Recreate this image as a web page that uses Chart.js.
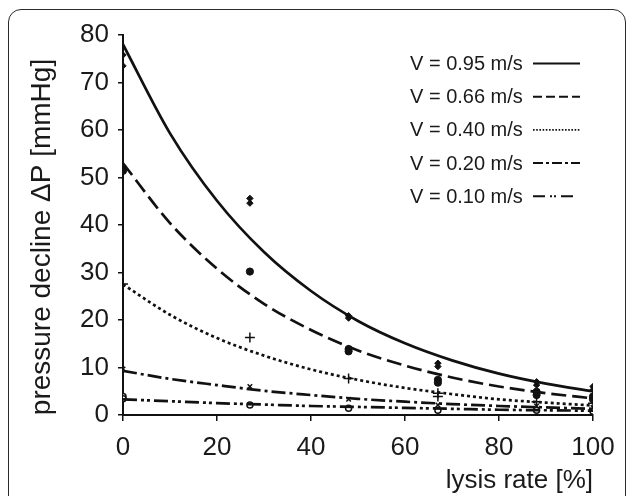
<!DOCTYPE html>
<html>
<head>
<meta charset="utf-8">
<script src="https://cdn.jsdelivr.net/npm/chart.js@4/dist/chart.umd.min.js"></script>
<style>
  html, body { margin: 0; padding: 0; background: #fff; overflow: hidden; }
  #wrap { position: relative; width: 627px; height: 496px; overflow: hidden; }
  #frame { position: absolute; left: 8px; top: 9px; width: 618px; height: 540px;
           border: 1.6px solid #2b2b2b; border-radius: 13px; box-sizing: border-box; }
  canvas { position: absolute; left: 0; top: 0; }
</style>
</head>
<body>
<div id="wrap">
  <div id="frame"></div>
  <canvas id="c" width="627" height="496"></canvas>
</div>
<script>
// ---- data ----
const seriesLabels = ['V = 0.95 m/s', 'V = 0.66 m/s', 'V = 0.40 m/s', 'V = 0.20 m/s', 'V = 0.10 m/s'];

// fitted curves (read at every 10 % of lysis rate)
const curveX    = [0, 10, 20, 30, 40, 50, 60, 70, 80, 90, 100];
const curve095  = [78.0, 59.3, 45.1, 34.3, 26.1, 19.8, 15.1, 11.5, 8.7, 6.6, 5.0];
const curve066  = [53.0, 40.4, 30.8, 23.4, 17.9, 13.6, 10.4, 7.9, 6.0, 4.6, 3.5];
const curve040  = [27.5, 21.1, 16.2, 12.5, 9.6, 7.4, 5.7, 4.4, 3.3, 2.6, 2.0];
const curve020  = [9.3, 7.6, 6.3, 5.1, 4.2, 3.4, 2.8, 2.3, 1.9, 1.6, 1.3];
const curve010  = [3.3, 2.9, 2.5, 2.2, 1.9, 1.7, 1.5, 1.3, 1.1, 1.0, 0.9];

// measured points
const ptsX095 = [0, 0, 27, 27, 48, 48, 67, 67, 88, 88, 100, 100];
const ptsY095 = [75.8, 73.5, 45.6, 44.6, 20.9, 20.4, 10.9, 10.2, 7.0, 6.3, 6.0, 5.3];
const ptsX066 = [0, 0, 27, 48, 48, 67, 67, 88, 88, 100, 100];
const ptsY066 = [52.0, 51.4, 30.2, 13.9, 13.4, 7.4, 6.8, 4.9, 4.2, 3.9, 3.3];
const ptsX040 = [0, 27, 48, 67, 67, 88, 100];
const ptsY040 = [27.6, 16.3, 7.7, 4.6, 3.9, 2.8, 2.5];
const ptsX020 = [0, 27, 48, 67, 88, 100];
const ptsY020 = [9.7, 6.0, 3.3, 2.1, 1.9, 1.6];
const ptsX010 = [0, 0, 27, 48, 67, 88, 100];
const ptsY010 = [3.9, 3.4, 2.1, 1.4, 1.0, 1.0, 0.8];

const xTickValues = [0, 20, 40, 60, 80, 100];
const yTickValues = [0, 10, 20, 30, 40, 50, 60, 70, 80];
const xTitle = 'lysis rate [%]';
const yTitle = 'pressure decline \u0394P [mmHg]';

// ---- styling ----
const FONT = '"Liberation Sans", Arial, sans-serif';
const dashes = [[], [15, 6], [3, 3], [14, 4, 3, 4], [14, 4, 3, 3, 3, 4]];
const legendDashes = [[], [9, 4], [1.6, 1.6], [10, 3, 3, 3], [12, 5, 2, 2, 2, 5]];
const curves = [curve095, curve066, curve040, curve020, curve010];

const toXY = (xs, ys) => xs.map((x, i) => ({x: x, y: ys[i]}));

const datasets = [];
curves.forEach((c, i) => {
  datasets.push({
    type: 'line',
    label: seriesLabels[i],
    data: toXY(curveX, c),
    borderColor: '#111',
    borderWidth: 2.7,
    borderDash: dashes[i],
    cubicInterpolationMode: 'monotone',
    pointRadius: 0,
    fill: false
  });
});
const pointSets = [
  {xs: ptsX095, ys: ptsY095, style: 'rectRot', r: 3.2, bg: '#111', bw: 1},
  {xs: ptsX066, ys: ptsY066, style: 'circle', r: 3.6, bg: '#111', bw: 1},
  {xs: ptsX040, ys: ptsY040, style: 'cross', r: 5, bg: '#111', bw: 1.5},
  {xs: ptsX020, ys: ptsY020, style: 'crossRot', r: 3.2, bg: '#111', bw: 1.5},
  {xs: ptsX010, ys: ptsY010, style: 'circle', r: 3, bg: '#fff', bw: 1.5}
];
pointSets.forEach((p, i) => {
  datasets.push({
    type: 'scatter',
    label: seriesLabels[i] + ' data',
    data: toXY(p.xs, p.ys),
    showLine: false,
    pointStyle: p.style,
    pointRadius: p.r,
    pointBackgroundColor: p.bg,
    pointBorderColor: '#111',
    pointBorderWidth: p.bw
  });
});

const legendPlugin = {
  id: 'customLegend',
  afterDraw(chart) {
    const ctx = chart.ctx;
    ctx.save();
    // legend
    ctx.font = '20px ' + FONT;
    ctx.fillStyle = '#1a1a1a';
    ctx.textBaseline = 'middle';
    ctx.textAlign = 'left';
    seriesLabels.forEach((lab, i) => {
      const y = 64.5 + i * 33.2;
      ctx.fillText(lab, 410, y);
      ctx.beginPath();
      ctx.setLineDash(legendDashes[i]);
      ctx.lineWidth = i === 2 ? 1.6 : 2;
      ctx.strokeStyle = '#111';
      ctx.moveTo(533, y - 1);
      ctx.lineTo(i === 4 ? 574 : 580, y - 1);
      ctx.stroke();
    });
    // y axis title
    ctx.setLineDash([]);
    ctx.font = '28px ' + FONT;
    ctx.textAlign = 'center';
    ctx.translate(42, 237);
    ctx.rotate(-Math.PI / 2);
    ctx.fillText(yTitle, 0, 0);
    ctx.restore();
  }
};

new Chart(document.getElementById('c'), {
  type: 'scatter',
  data: { datasets: datasets },
  options: {
    responsive: false,
    animation: false,
    events: [],
    layout: { padding: { left: 0, right: 34, top: 35, bottom: 0 } },
    plugins: { legend: { display: false }, tooltip: { enabled: false } },
    scales: {
      x: {
        type: 'linear', min: 0, max: 100,
        afterBuildTicks: s => { s.ticks = xTickValues.map(v => ({value: v})); },
        afterFit: s => { s.height = 81; },
        ticks: { font: { size: 26, family: FONT }, color: '#1a1a1a', padding: 11, maxRotation: 0 },
        grid: { display: true, drawOnChartArea: false, drawTicks: true, tickLength: 6, color: '#111', lineWidth: 1.5 },
        border: { display: true, color: '#111', width: 2 },
        title: { display: true, text: xTitle, align: 'end', color: '#1a1a1a',
                 font: { size: 26, family: FONT }, padding: { top: 0, bottom: 0 } }
      },
      y: {
        type: 'linear', min: 0, max: 80,
        afterBuildTicks: s => { s.ticks = yTickValues.map(v => ({value: v})); },
        afterFit: s => { s.width = 123; },
        ticks: { font: { size: 26, family: FONT }, color: '#1a1a1a', padding: 9 },
        grid: { display: true, drawOnChartArea: false, drawTicks: true, tickLength: 5, color: '#111', lineWidth: 1.5 },
        border: { display: true, color: '#111', width: 2 },
        title: { display: false, text: yTitle }
      }
    }
  },
  plugins: [legendPlugin]
});
</script>
</body>
</html>
